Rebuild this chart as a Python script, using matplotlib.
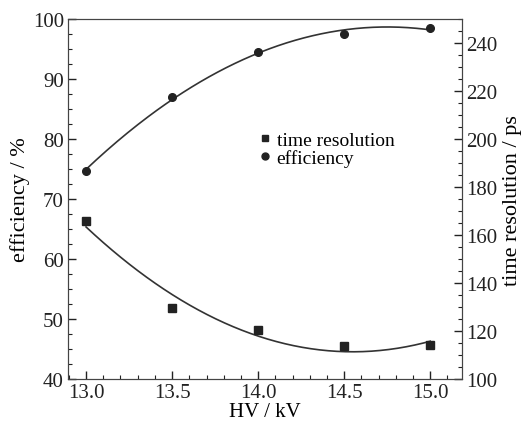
import numpy as np
import matplotlib.pyplot as plt
from matplotlib.ticker import MultipleLocator

plt.rcParams['font.family'] = ['Liberation Serif', 'DejaVu Serif']

hv = [13.0, 13.5, 14.0, 14.5, 15.0]
efficiency = [74.7, 87.0, 94.5, 97.5, 98.5]
time_res = [165.8, 129.6, 120.4, 113.8, 114.2]

line_col = '#333333'
fig = plt.figure(figsize=(5.25, 4.31), dpi=100)
ax = fig.add_axes([0.1295, 0.118, 0.751, 0.8356])
ax2 = ax.twinx()

xs = np.linspace(13.0, 15.0, 200)
fit_e = np.polyfit(hv, efficiency, 2)
fit_t = np.polyfit(hv, time_res, 2)

ax.plot(xs, np.polyval(fit_e, xs), color=line_col, lw=1.2)
ax.plot(hv, efficiency, 'o', color='#222222', ms=5.5)
ax2.plot(xs, np.polyval(fit_t, xs), color=line_col, lw=1.2)
ax2.plot(hv, time_res, 's', color='#222222', ms=5.5)

ax.set_xlim(12.895, 15.186)
ax.set_ylim(40, 100)
ax2.set_ylim(100, 250)

ax.xaxis.set_major_locator(MultipleLocator(0.5))
ax.xaxis.set_minor_locator(MultipleLocator(0.1))
ax.yaxis.set_major_locator(MultipleLocator(10))
ax.yaxis.set_minor_locator(MultipleLocator(2.5))
ax2.yaxis.set_major_locator(MultipleLocator(20))
ax2.yaxis.set_minor_locator(MultipleLocator(5))
ax.xaxis.set_major_formatter(plt.FormatStrFormatter('%.1f'))

for a in (ax, ax2):
    a.tick_params(which='both', direction='in', labelsize=15, colors='#222222', pad=3)
    a.tick_params(which='major', length=6, width=1)
    a.tick_params(which='minor', length=3, width=0.8)
    for s in a.spines.values():
        s.set_color('#444444')
ax.tick_params(axis='x', which='both', top=False)
ax.tick_params(axis='y', which='both', right=False)

ax.set_xlabel('HV / kV', fontsize=15, labelpad=0)
ax.set_ylabel('efficiency / %', fontsize=16, labelpad=2)
ax2.set_ylabel('time resolution / ps', fontsize=16, labelpad=4)

h1 = plt.Line2D([], [], marker='s', ls='none', color='#222222', ms=5)
h2 = plt.Line2D([], [], marker='o', ls='none', color='#222222', ms=5)
ax.legend([h1, h2], ['time resolution', 'efficiency'], loc='upper left',
          bbox_to_anchor=(0.45, 0.715), frameon=False, fontsize=14,
          handletextpad=0.1, handlelength=1.0, labelspacing=0.0, borderpad=0)

fig.savefig('out.png', dpi=100)
